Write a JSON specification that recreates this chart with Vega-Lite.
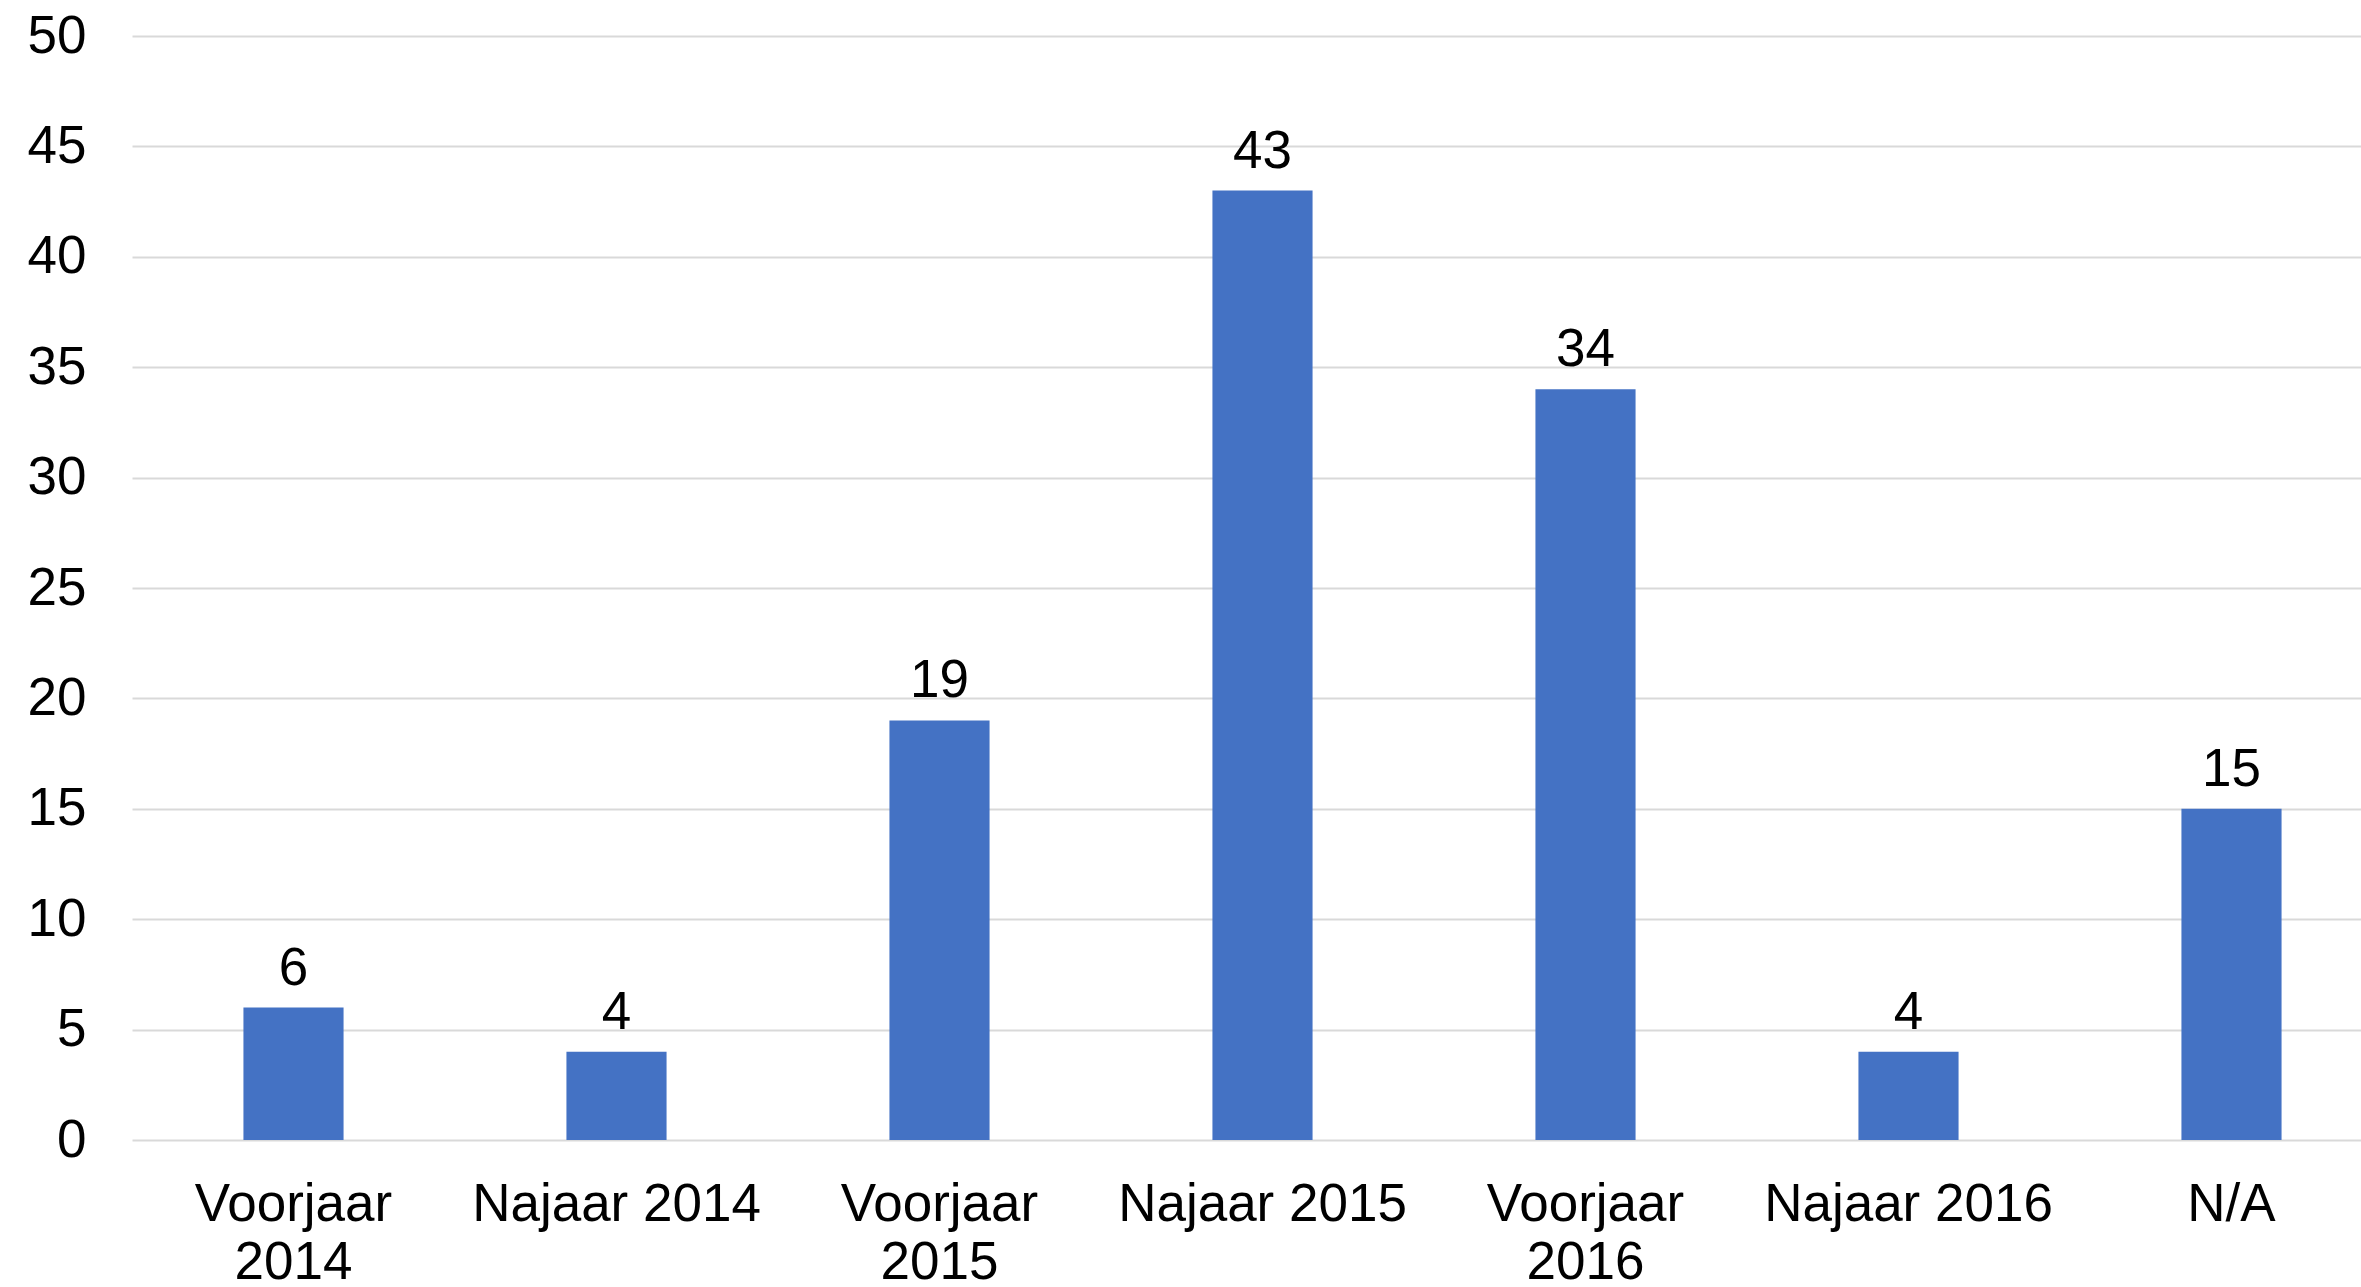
{
  "$schema": "https://vega.github.io/schema/vega-lite/v6.json",
  "autosize": "none",
  "padding": {"left": 132, "top": 36, "right": 0, "bottom": 147},
  "width": 2261,
  "height": 1104,
  "background": "white",
  "config": {
    "view": {"stroke": null},
    "font": "Liberation Sans"
  },
  "data": {
    "values": [
      {"periode": "Voorjaar 2014", "aantal": 6},
      {"periode": "Najaar 2014", "aantal": 4},
      {"periode": "Voorjaar 2015", "aantal": 19},
      {"periode": "Najaar 2015", "aantal": 43},
      {"periode": "Voorjaar 2016", "aantal": 34},
      {"periode": "Najaar 2016", "aantal": 4},
      {"periode": "N/A", "aantal": 15}
    ]
  },
  "encoding": {
    "x": {
      "field": "periode",
      "type": "nominal",
      "sort": null,
      "title": null,
      "scale": {"paddingInner": 0.69, "paddingOuter": 0.345},
      "axis": {
        "labelAngle": 0,
        "labelFontSize": 53,
        "labelColor": "#000000",
        "labelFont": "Liberation Sans",
        "labelPadding": 38,
        "labelLineHeight": 58,
        "labelLimit": 0,
        "labelOverlap": false,
        "labelExpr": "indexof(datum.label, 'Voorjaar') == 0 ? split(datum.label, ' ') : datum.label",
        "domain": false,
        "ticks": false,
        "grid": false
      }
    },
    "y": {
      "field": "aantal",
      "type": "quantitative",
      "title": null,
      "scale": {"domain": [0, 50], "nice": false},
      "axis": {
        "values": [0, 5, 10, 15, 20, 25, 30, 35, 40, 45, 50],
        "labelFontSize": 53,
        "labelColor": "#000000",
        "labelFont": "Liberation Sans",
        "labelPadding": 46,
        "domain": false,
        "ticks": false,
        "grid": true,
        "gridColor": "#D9D9D9",
        "gridWidth": 2
      }
    }
  },
  "layer": [
    {"mark": {"type": "bar", "color": "#4472C4"}},
    {
      "mark": {"type": "text", "fontSize": 53, "color": "#000000", "baseline": "alphabetic", "dy": -23, "font": "Liberation Sans"},
      "encoding": {"text": {"field": "aantal", "type": "quantitative"}}
    }
  ]
}
